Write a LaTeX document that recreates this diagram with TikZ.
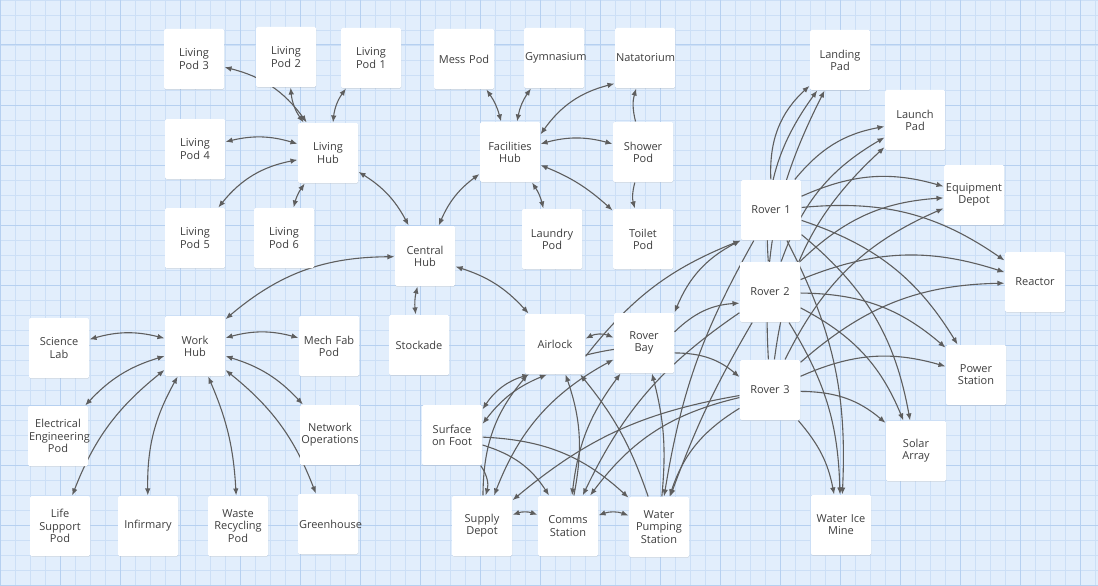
\documentclass[tikz,border=0pt]{standalone}
\usepackage{fontspec}
\setmainfont{Open Sans}
\usetikzlibrary{arrows.meta, shadows, backgrounds}
\definecolor{cpaper}{HTML}{E2EEFC}
\definecolor{cminor}{HTML}{CCDFF6}
\definecolor{cmajor}{HTML}{B6D0F0}
\definecolor{cline}{HTML}{5E5E5E}
\definecolor{ctext}{HTML}{3E3E3E}
\tikzset{
  every picture/.style={font=\fontsize{11}{12.2}\selectfont, line width=1.1pt},
  pod/.style={fill=white, text=ctext, rounded corners=1.5pt, align=center, text width=58pt, inner sep=1pt, minimum height=60pt,
    drop shadow={shadow xshift=0.4pt, shadow yshift=-0.8pt, opacity=0.18}},
  link/.style={draw=cline, line width=1.1pt, -{Latex[length=7pt, width=5.5pt]}},
  both/.style={link, {Latex[length=7pt, width=5.5pt]}-{Latex[length=7pt, width=5.5pt]}},
  minor/.style={draw=cminor, line width=0.6pt},
  major/.style={draw=cmajor, line width=1pt},
}

\begin{document}
\begin{tikzpicture}[x=1pt, y=-1pt]
  \useasboundingbox (0,0) rectangle (1098,586);
  % grid paper
  \begin{scope}[on background layer]
    \fill[cpaper] (0,0) rectangle (1098,586);
    \foreach \x in {0,15,...,1095} \draw[minor] (\x,0) -- (\x,586);
    \foreach \y in {0,15,...,585} \draw[minor] (0,\y) -- (1098,\y);
    \foreach \x in {0,60,...,1095} \draw[major] (\x,0) -- (\x,586);
    \foreach \y in {45,105,...,585} \draw[major] (0,\y) -- (1098,\y);
  \end{scope}
  % living quarters
  \node[pod] (lp3) at (194,59) {Living\\Pod 3};
  \node[pod] (lp2) at (286,57) {Living\\Pod 2};
  \node[pod] (lp1) at (371,58) {Living\\Pod 1};
  \node[pod] (lp4) at (195,149) {Living\\Pod 4};
  \node[pod] (lhub) at (328,153) {Living\\Hub};
  \node[pod] (lp5) at (195,238) {Living\\Pod 5};
  \node[pod] (lp6) at (284,238) {Living\\Pod 6};
  \node[pod] (chub) at (425,256) {Central\\Hub};
  % facilities
  \node[pod] (mess) at (464,59) {Mess Pod};
  \node[pod] (gym) at (554,58) {Gymnasium};
  \node[pod] (nat) at (645,58) {Natatorium};
  \node[pod] (fhub) at (510,152) {Facilities\\Hub};
  \node[pod] (shower) at (643,152) {Shower\\Pod};
  \node[pod] (laundry) at (552,239) {Laundry\\Pod};
  \node[pod] (toilet) at (643,239) {Toilet\\Pod};
  % work
  \node[pod] (sci) at (59,348) {Science\\Lab};
  \node[pod] (whub) at (195,346) {Work\\Hub};
  \node[pod] (mech) at (329,346) {Mech Fab\\Pod};
  \node[pod] (stock) at (419,345) {Stockade};
  \node[pod] (elec) at (58,436) {Electrical\\Engineering\\Pod};
  \node[pod] (netops) at (330,435) {Network\\Operations};
  \node[pod] (life) at (60,526) {Life\\Support\\Pod};
  \node[pod] (infirm) at (148,526) {Infirmary};
  \node[pod] (waste) at (238,526) {Waste\\Recycling\\Pod};
  \node[pod] (green) at (328,524) {Greenhouse};
  % surface access
  \node[pod] (air) at (555,344) {Airlock};
  \node[pod] (rbay) at (644,343) {Rover\\Bay};
  \node[pod] (sof) at (452,435) {Surface\\on Foot};
  \node[pod] (supply) at (482,526) {Supply\\Depot};
  \node[pod] (comms) at (568,526) {Comms\\Station};
  \node[pod] (wps) at (659,527) {Water\\Pumping\\Station};
  % rovers and sites
  \node[pod] (rov1) at (771,210) {Rover 1};
  \node[pod] (rov2) at (770,292) {Rover 2};
  \node[pod] (rov3) at (770,390) {Rover 3};
  \node[pod] (landing) at (840,60) {Landing\\Pad};
  \node[pod] (launch) at (915,120) {Launch\\Pad};
  \node[pod] (equip) at (974,195) {Equipment\\Depot};
  \node[pod] (reactor) at (1035,282) {Reactor};
  \node[pod] (power) at (976,375) {Power\\Station};
  \node[pod] (solar) at (916,451) {Solar\\Array};
  \node[pod] (ice) at (841,525) {Water Ice\\Mine};

  \begin{scope}[on background layer]
    % living hub
    \draw[both] (lp3) to[bend left=20] (lhub);
    \draw[both] (lp2) to[bend right=15] (lhub);
    \draw[both] (lp1) to[bend right=15] (lhub);
    \draw[both] (lp4) to[bend left=15] (lhub);
    \draw[both] (lp5) to[bend left=20] (lhub);
    \draw[both] (lp6) to[bend left=10] (lhub);
    \draw[both] (lhub) to[bend left=15] (chub);
    % facilities hub
    \draw[both] (mess) to[bend left=10] (fhub);
    \draw[both] (gym) to[bend right=12] (fhub);
    \draw[both] (nat.-140) to[bend right=20] (fhub.30);
    \draw[both] (fhub) to[bend left=15] (shower);
    \draw[both] (fhub) to[bend left=10] (laundry);
    \draw[both] (fhub) to[bend left=10] (toilet);
    \draw[both] (fhub) to[bend right=15] (chub);
    \draw[link] (shower) to[bend left=15] (nat);
    \draw[link] (shower) to[bend right=15] (toilet);
    % central hub
    \draw[both] (chub) to[bend right=10] (stock);
    \draw[both] (chub) to[bend left=15] (air);
    \draw[both] (whub) to[bend left=20] (chub);
    % work hub
    \draw[both] (sci) to[bend left=15] (whub);
    \draw[both] (whub) to[bend left=15] (mech);
    \draw[both] (whub) to[bend right=15] (elec);
    \draw[both] (whub) to[bend left=15] (netops);
    \draw[both] (whub) to[bend right=15] (life);
    \draw[both] (whub) to[bend right=15] (infirm);
    \draw[both] (whub) to[bend left=10] (waste);
    \draw[both] (whub) to[bend left=15] (green);
    % surface and depots
    \draw[both] (sof.40) to[bend left=20] (air.-130);
    \draw[both] (sof.20) to[bend left=15] (air.-105);
    \draw[link] (sof) to[bend left=25] (supply);
    \draw[link] (sof) to[bend left=20] (comms);
    \draw[link] (sof) to[bend left=20] (wps);
    \draw[both] (supply) to[bend left=20] (comms);
    \draw[both] (comms) to[bend left=20] (wps);
    \draw[link] (supply) to[bend left=20] (air);
    \draw[link] (comms) to[bend right=15] (air);
    \draw[link] (wps) to[bend right=10] (air);
    \draw[both] (supply) to[bend left=20] (rbay);
    \draw[both] (comms) to[bend left=15] (rbay);
    \draw[link] (wps) to[bend right=10] (rbay);
    % airlock and rovers
    \draw[both] (air.10) to[bend left=25] (rbay.170);
    \draw[link] (air.-20) to[bend left=10] (rbay.-12);
    \draw[link] (air.-22) to[bend left=15] (rov1.south west);
    \draw[both] (rbay.north east) to[bend left=20] (rov1.south west);
    \draw[link] (rbay.20) to[bend left=20] (rov2.200);
    \draw[link] (rbay.-18) to[bend left=20] (rov3.157);
    \draw[link] (rov1) to[bend right=10] (wps);
    \draw[link] (rov2) to[bend right=5] (wps);
    \draw[link] (rov2) to[bend right=15] (comms);
    \draw[link] (rov3) to[bend right=20] (wps);
    \draw[link] (rov3) to[bend right=20] (comms);
    \draw[link] (rov3) to[bend right=15] (supply);
    % rovers out to the sites
    \foreach \r/\lb in {rov1/25, rov2/20, rov3/15} {
      \draw[link] (\r) to[bend left=\lb] (landing);
      \foreach \d in {launch, equip, reactor, power, solar}
        \draw[link] (\r) to[bend left=20] (\d);
      \draw[link] (\r) to[bend left=15] (ice);
    }
  \end{scope}
\end{tikzpicture}
\end{document}
